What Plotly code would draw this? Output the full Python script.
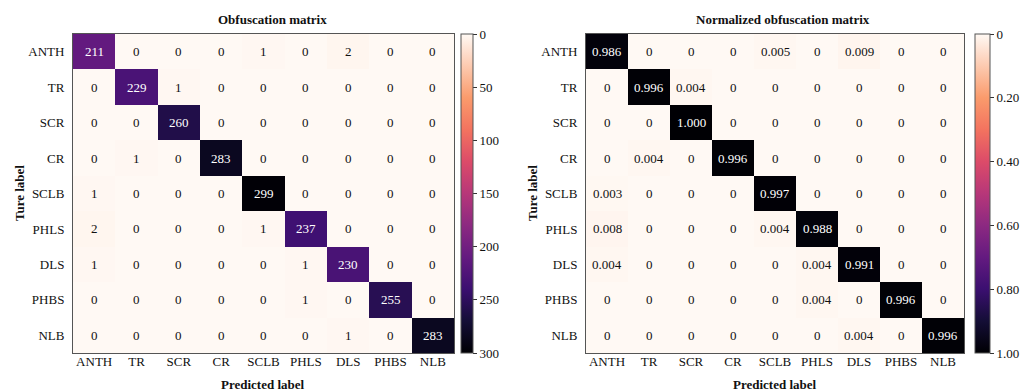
import plotly.graph_objects as go

labels = ["ANTH", "TR", "SCR", "CR", "SCLB", "PHLS", "DLS", "PHBS", "NLB"]

counts = [
    [211, 0, 0, 0, 1, 0, 2, 0, 0],
    [0, 229, 1, 0, 0, 0, 0, 0, 0],
    [0, 0, 260, 0, 0, 0, 0, 0, 0],
    [0, 1, 0, 283, 0, 0, 0, 0, 0],
    [1, 0, 0, 0, 299, 0, 0, 0, 0],
    [2, 0, 0, 0, 1, 237, 0, 0, 0],
    [1, 0, 0, 0, 0, 1, 230, 0, 0],
    [0, 0, 0, 0, 0, 1, 0, 255, 0],
    [0, 0, 0, 0, 0, 0, 1, 0, 283],
]

normalized = [
    [0.986, 0, 0, 0, 0.005, 0, 0.009, 0, 0],
    [0, 0.996, 0.004, 0, 0, 0, 0, 0, 0],
    [0, 0, 1.000, 0, 0, 0, 0, 0, 0],
    [0, 0.004, 0, 0.996, 0, 0, 0, 0, 0],
    [0.003, 0, 0, 0, 0.997, 0, 0, 0, 0],
    [0.008, 0, 0, 0, 0.004, 0.988, 0, 0, 0],
    [0.004, 0, 0, 0, 0, 0.004, 0.991, 0, 0],
    [0, 0, 0, 0, 0, 0.004, 0, 0.996, 0],
    [0, 0, 0, 0, 0, 0, 0.004, 0, 0.996],
]

count_ticks = [0, 50, 100, 150, 200, 250, 300]
norm_ticks = [0, 0.2, 0.4, 0.6, 0.8, 1.0]
norm_ticktext = ["0", "0.20", "0.40", "0.60", "0.80", "1.00"]

# colour stops from value 0 (light) to max (dark)
cscale = [
    [0.0, "#fff9f4"],
    [0.2, "#fa9b6c"],
    [0.3, "#f3735f"],
    [0.4, "#dc4b69"],
    [0.5, "#b73779"],
    [0.6, "#8c2981"],
    [0.7, "#641a80"],
    [0.8, "#3b0f70"],
    [0.9, "#140e36"],
    [1.0, "#000004"],
]
# colorbar drawn with 0 on top: map on negated values with flipped scale
cscale_flipped = [[round(1 - p, 6), c] for p, c in reversed(cscale)]

FONT = "Liberation Serif, Times New Roman, serif"
W, H = 1026, 392


def px_x(p):
    return p / W


def px_y(p):
    return 1 - p / H


def fmt_norm(v):
    return "0" if v == 0 else f"{v:.3f}"


def neg(m):
    return [[-v for v in row] for row in m]


fig = go.Figure()

fig.add_trace(go.Heatmap(
    z=neg(counts), x=labels, y=labels, zmin=-300, zmax=0,
    colorscale=cscale_flipped,
    xaxis="x", yaxis="y",
    showscale=True,
    colorbar=dict(
        x=px_x(461), xanchor="left", y=px_y(193.5), yanchor="middle",
        len=319 / H, lenmode="fraction", thickness=12, thicknessmode="pixels",
        outlinewidth=1, outlinecolor="#555", xpad=0, ypad=0,
        tickvals=[-t for t in count_ticks], ticktext=[str(t) for t in count_ticks],
        ticks="outside", ticklen=4, tickcolor="#333",
        tickfont=dict(family=FONT, size=13, color="#111"),
    ),
    hoverinfo="skip",
))

fig.add_trace(go.Heatmap(
    z=neg(normalized), x=labels, y=labels, zmin=-1, zmax=0,
    colorscale=cscale_flipped,
    xaxis="x2", yaxis="y2",
    showscale=True,
    colorbar=dict(
        x=px_x(975), xanchor="left", y=px_y(193.5), yanchor="middle",
        len=319 / H, lenmode="fraction", thickness=15, thicknessmode="pixels",
        outlinewidth=1, outlinecolor="#555", xpad=0, ypad=0,
        tickvals=[-t for t in norm_ticks], ticktext=norm_ticktext,
        ticks="outside", ticklen=4, tickcolor="#333",
        tickfont=dict(family=FONT, size=13, color="#111"),
    ),
    hoverinfo="skip",
))

annotations = []
for i, row in enumerate(counts):
    for j, v in enumerate(row):
        annotations.append(dict(
            x=labels[j], y=labels[i], xref="x", yref="y", text=str(v),
            showarrow=False,
            font=dict(family=FONT, size=13, color="white" if v > 150 else "#111"),
        ))
for i, row in enumerate(normalized):
    for j, v in enumerate(row):
        annotations.append(dict(
            x=labels[j], y=labels[i], xref="x2", yref="y2", text=fmt_norm(v),
            showarrow=False,
            font=dict(family=FONT, size=13, color="white" if v > 0.5 else "#111"),
        ))

annotations += [
    dict(x=px_x(272), y=px_y(20), xref="paper", yref="paper", text="<b>Obfuscation matrix</b>",
         showarrow=False, font=dict(family=FONT, size=13, color="#111"), xanchor="center", yanchor="middle"),
    dict(x=px_x(783), y=px_y(20), xref="paper", yref="paper", text="<b>Normalized obfuscation matrix</b>",
         showarrow=False, font=dict(family=FONT, size=13, color="#111"), xanchor="center", yanchor="middle"),
    dict(x=px_x(263), y=px_y(384), xref="paper", yref="paper", text="<b>Predicted label</b>",
         showarrow=False, font=dict(family=FONT, size=13, color="#111"), xanchor="center", yanchor="middle"),
    dict(x=px_x(775), y=px_y(384), xref="paper", yref="paper", text="<b>Predicted label</b>",
         showarrow=False, font=dict(family=FONT, size=13, color="#111"), xanchor="center", yanchor="middle"),
    dict(x=px_x(19), y=px_y(193), xref="paper", yref="paper", text="<b>Ture label</b>", textangle=-90,
         showarrow=False, font=dict(family=FONT, size=13, color="#111"), xanchor="center", yanchor="middle"),
    dict(x=px_x(532), y=px_y(193), xref="paper", yref="paper", text="<b>Ture label</b>", textangle=-90,
         showarrow=False, font=dict(family=FONT, size=13, color="#111"), xanchor="center", yanchor="middle"),
]

axis_common = dict(
    showline=True, mirror=True, linecolor="#555", linewidth=1,
    showgrid=False, zeroline=False, ticks="",
    tickfont=dict(family=FONT, size=13, color="#111"),
)

fig.update_layout(
    width=W, height=H,
    margin=dict(l=0, r=0, t=0, b=0),
    paper_bgcolor="white", plot_bgcolor="white",
    font=dict(family=FONT, size=13, color="#111"),
    xaxis=dict(domain=[px_x(73), px_x(454)], anchor="y", ticklabelstandoff=-4, **axis_common),
    yaxis=dict(domain=[px_y(353), px_y(34)], anchor="x", autorange="reversed", ticklabelstandoff=5, **axis_common),
    xaxis2=dict(domain=[px_x(586), px_x(964)], anchor="y2", ticklabelstandoff=-4, **axis_common),
    yaxis2=dict(domain=[px_y(353), px_y(34)], anchor="x2", autorange="reversed", ticklabelstandoff=5, **axis_common),
    annotations=annotations,
    showlegend=False,
)

fig.write_html("out.html")
